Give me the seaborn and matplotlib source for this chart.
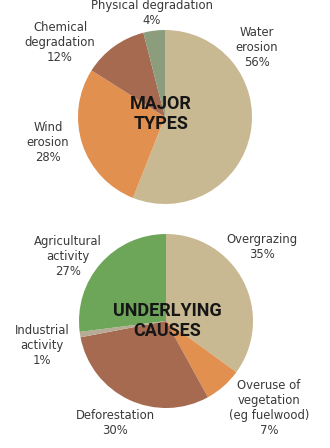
import matplotlib
matplotlib.use("Agg")
import matplotlib.pyplot as plt
import seaborn as sns

sns.set_theme(style="white")
plt.rcParams["font.family"] = ["DejaVu Sans"]

# Major types of land degradation
type_labels = ["Water\nerosion", "Wind\nerosion", "Chemical\ndegradation", "Physical degradation"]
type_values = [56, 28, 12, 4]
type_colors = ["#c9b992", "#e2904f", "#a56a50", "#8b9d7c"]

# Underlying causes
cause_labels = ["Overgrazing", "Overuse of\nvegetation\n(eg fuelwood)", "Deforestation",
                "Industrial\nactivity", "Agricultural\nactivity"]
cause_values = [35, 7, 30, 1, 27]
cause_colors = ["#c9b992", "#e2904f", "#a56a50", "#b8ab95", "#6ea659"]

W, H = 330, 448
R = 87
fig = plt.figure(figsize=(W / 100, H / 100), dpi=100)
fig.patch.set_facecolor("white")

TXT = "#3a3a3a"


def pie_axes(cx, cy):
    ax = fig.add_axes([(cx - R) / W, 1 - (cy + R) / H, 2 * R / W, 2 * R / H])
    ax.axis("off")
    return ax


def to_data(cx, cy, px, py):
    return (px - cx) / R, (cy - py) / R


def draw(ax, cx, cy, values, colors, labels, positions, title, title_pos):
    ax.pie(values, colors=colors, startangle=90, counterclock=False, radius=1,
           wedgeprops=dict(linewidth=0))
    ax.set_xlim(-1, 1)
    ax.set_ylim(-1, 1)
    ax.set_aspect("auto")
    for lab, val, (px, py) in zip(labels, values, positions):
        x, y = to_data(cx, cy, px, py)
        ax.text(x, y, f"{lab}\n{val}%", ha="center", va="center", fontsize=8.4,
                color=TXT, linespacing=1.2, clip_on=False)
    x, y = to_data(cx, cy, *title_pos)
    ax.text(x, y, title, ha="center", va="center", fontsize=13, fontweight="bold",
            family=["Roboto", "DejaVu Sans"], color="#161616", linespacing=1.1,
            clip_on=False)


cx1, cy1 = 165, 117
ax1 = pie_axes(cx1, cy1)
draw(ax1, cx1, cy1, type_values, type_colors, type_labels,
     [(257, 48), (48, 143), (60, 43), (152, 13)],
     "MAJOR\nTYPES", (161, 114))

cx2, cy2 = 166, 321
ax2 = pie_axes(cx2, cy2)
draw(ax2, cx2, cy2, cause_values, cause_colors, cause_labels,
     [(262, 247), (269, 408), (115, 423), (42, 345), (68, 256)],
     "UNDERLYING\nCAUSES", (167, 321))

fig.savefig("out.png", dpi=100, facecolor="white")
